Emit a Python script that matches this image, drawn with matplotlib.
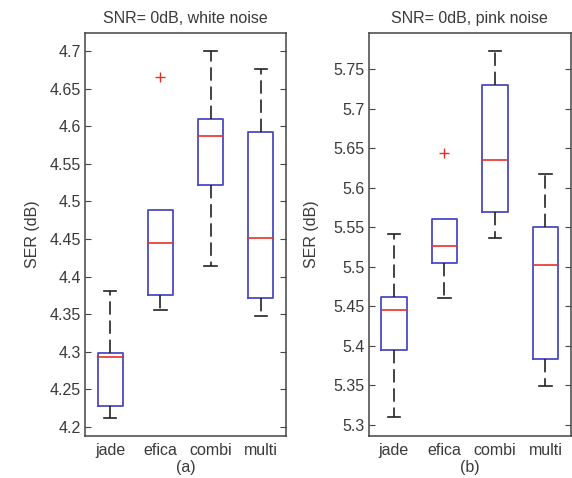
import matplotlib
matplotlib.use('Agg')
from matplotlib import pyplot as plt
from matplotlib.ticker import FuncFormatter
import numpy as np

plt.rcParams['font.family'] = ['Liberation Sans', 'DejaVu Sans']
plt.rcParams['font.size'] = 11.5

labels = ['jade', 'efica', 'combi', 'multi']

# white noise panel (a)
white_med = [4.293, 4.445, 4.587, 4.452]
white_q1 = [4.228, 4.375, 4.522, 4.372]
white_q3 = [4.299, 4.488, 4.610, 4.592]
white_lo = [4.212, 4.356, 4.414, 4.347]
white_hi = [4.381, 4.488, 4.700, 4.676]
white_fliers = [[], [4.665], [], []]
white_ticks = [4.2, 4.25, 4.3, 4.35, 4.4, 4.45, 4.5, 4.55, 4.6, 4.65, 4.7]

# pink noise panel (b)
pink_med = [5.446, 5.527, 5.635, 5.503]
pink_q1 = [5.395, 5.505, 5.570, 5.384]
pink_q3 = [5.462, 5.560, 5.730, 5.550]
pink_lo = [5.310, 5.461, 5.537, 5.349]
pink_hi = [5.542, 5.560, 5.773, 5.617]
pink_fliers = [[], [5.644], [], []]
pink_ticks = [5.3, 5.35, 5.4, 5.45, 5.5, 5.55, 5.6, 5.65, 5.7, 5.75]

text_col = '#3a3a3a'
box_col = '#4a4ac4'
fs = 11.5


def make_stats(med, q1, q3, lo, hi, fliers):
    stats = []
    for i in range(len(labels)):
        stats.append({'label': labels[i], 'med': med[i], 'q1': q1[i], 'q3': q3[i],
                      'whislo': lo[i], 'whishi': hi[i], 'fliers': fliers[i]})
    return stats


def draw_panel(ax, stats, ticks, ylim, title, sub):
    art = ax.bxp(stats, widths=0.5, capwidths=0.25,
                 boxprops=dict(color=box_col, linewidth=1.3),
                 medianprops=dict(color='#e8302a', linewidth=1.2),
                 whiskerprops=dict(color='#222222', linewidth=1.2, linestyle=(0, (8, 3.5))),
                 capprops=dict(color='#222222', linewidth=1.2),
                 flierprops=dict(marker='+', markeredgecolor='#e8302a', markersize=7,
                                 markeredgewidth=1.0, linestyle='none'))
    # hide caps for zero-length whiskers
    for i, s in enumerate(stats):
        if s['whishi'] <= s['q3']:
            art['caps'][2 * i + 1].set_visible(False)
        if s['whislo'] >= s['q1']:
            art['caps'][2 * i].set_visible(False)
    ax.set_xlim(0.5, 4.5)
    ax.set_ylim(*ylim)
    ax.set_yticks(ticks)
    ax.yaxis.set_major_formatter(FuncFormatter(lambda v, p: '%g' % round(v, 3)))
    ax.tick_params(axis='y', direction='in', length=4, right=True, colors='#444444',
                   labelcolor=text_col, labelsize=fs, pad=3)
    ax.tick_params(axis='x', length=0, pad=5, labelcolor=text_col, labelsize=fs)
    for sp in ax.spines.values():
        sp.set_color('#444444')
        sp.set_linewidth(1.1)
    ax.set_title(title, color=text_col, fontsize=fs, pad=7)
    ax.set_xlabel(sub, color=text_col, fontsize=fs, labelpad=1.5)
    ax.set_ylabel('SER (dB)', color=text_col, fontsize=fs)


fig = plt.figure(figsize=(5.72, 4.78), dpi=100)
ax1 = fig.add_axes([0.1486, 0.0879, 0.3514, 0.843])
ax2 = fig.add_axes([0.6446, 0.0879, 0.353, 0.843])

draw_panel(ax1, make_stats(white_med, white_q1, white_q3, white_lo, white_hi, white_fliers),
           white_ticks, (4.188, 4.724), 'SNR= 0dB, white noise', '(a)')
draw_panel(ax2, make_stats(pink_med, pink_q1, pink_q3, pink_lo, pink_hi, pink_fliers),
           pink_ticks, (5.286, 5.796), 'SNR= 0dB, pink noise', '(b)')
ax1.yaxis.set_label_coords(-0.224, 0.5)
ax2.yaxis.set_label_coords(-0.248, 0.5)

fig.savefig('out.png', dpi=100)
